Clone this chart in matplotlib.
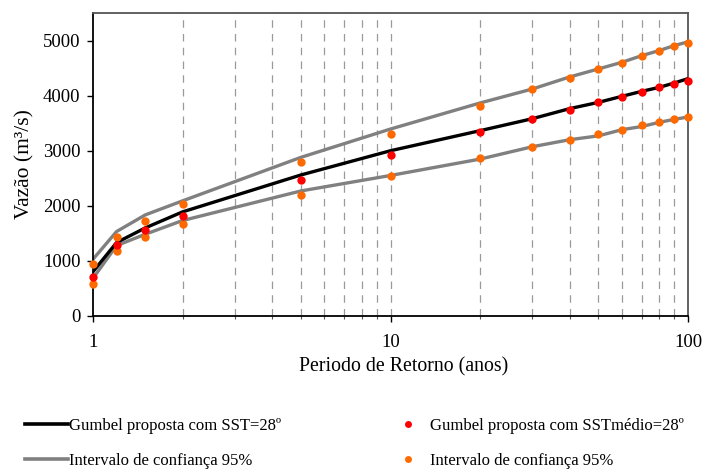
import matplotlib
matplotlib.use("Agg")
import matplotlib.pyplot as plt
from matplotlib.lines import Line2D
from matplotlib.ticker import FixedLocator, NullFormatter, FixedFormatter

plt.rcParams['font.family'] = ['Liberation Serif', 'DejaVu Serif']

# Return periods (years)
periodo = [1, 1.2, 1.5, 2, 5, 10, 20, 30, 40, 50, 60, 70, 80, 90, 100]

# Gumbel proposal curve, SST = 28º (m³/s)
gumbel_linha = [805, 1333, 1600, 1890, 2560, 3000, 3364, 3582, 3764, 3878, 3988, 4079, 4150, 4230, 4309]
ic_sup_linha = [1030, 1533, 1836, 2090, 2880, 3394, 3867, 4121, 4339, 4485, 4606, 4727, 4818, 4909, 4976]
ic_inf_linha = [685, 1278, 1485, 1733, 2270, 2551, 2848, 3073, 3200, 3270, 3382, 3440, 3515, 3570, 3612]

# Gumbel proposal points, mean SST = 28º (m³/s)
gumbel_pontos = [710, 1280, 1553, 1820, 2475, 2927, 3340, 3582, 3733, 3878, 3970, 4060, 4150, 4212, 4267]
ic_sup_pontos = [945, 1425, 1727, 2025, 2800, 3310, 3818, 4121, 4327, 4479, 4600, 4715, 4806, 4903, 4958]
ic_inf_pontos = [582, 1188, 1425, 1667, 2205, 2533, 2860, 3073, 3194, 3303, 3376, 3460, 3515, 3582, 3612]

y_ticks = [0, 1000, 2000, 3000, 4000, 5000]
x_ticks = [1, 10, 100]
x_ticklabels = ['1', '10', '100']

fig = plt.figure(figsize=(7.03, 4.70), dpi=100)
ax = fig.add_axes([93/703, 1 - 316/470, (688 - 93)/703, (316 - 13)/470])

ax.set_xscale('log')
ax.set_xlim(1, 100)
ax.set_ylim(0, 5500)

# dashed verticals at every intermediate position of each decade
minor = [m * d for d in (1, 10) for m in range(2, 10)]
for xv in minor + [10]:
    ax.axvline(xv, color='#9a9a9a', lw=0.9, ls=(0, (6, 5)), zorder=1)

ax.plot(periodo, ic_sup_linha, color='#808080', lw=2.4, zorder=2)
ax.plot(periodo, ic_inf_linha, color='#808080', lw=2.4, zorder=2)
ax.plot(periodo, gumbel_linha, color='black', lw=2.4, zorder=3)
ax.plot(periodo, ic_sup_pontos, 'o', color='#ff6a00', ms=6, mec='none', zorder=4, clip_on=False)
ax.plot(periodo, ic_inf_pontos, 'o', color='#ff6a00', ms=6, mec='none', zorder=4, clip_on=False)
ax.plot(periodo, gumbel_pontos, 'o', color='#ff0000', ms=6, mec='none', zorder=5, clip_on=False)

ax.xaxis.set_major_locator(FixedLocator(x_ticks))
ax.xaxis.set_major_formatter(FixedFormatter(x_ticklabels))
ax.xaxis.set_minor_locator(FixedLocator(minor))
ax.xaxis.set_minor_formatter(NullFormatter())
ax.set_yticks(y_ticks)

ax.tick_params(axis='both', which='major', direction='out', length=4, width=1,
               labelsize=13.5, colors='black')
ax.tick_params(axis='x', which='major', pad=9)
ax.tick_params(axis='y', which='major', pad=5)
ax.tick_params(axis='x', which='minor', direction='out', length=2, width=0.8, color='#555555')

for s in ('left', 'bottom'):
    ax.spines[s].set_color('black')
    ax.spines[s].set_linewidth(1.3)
for s in ('top', 'right'):
    ax.spines[s].set_color('#555555')
    ax.spines[s].set_linewidth(1.3)

ax.set_ylabel('Vazão (m³/s)', fontsize=15.5, labelpad=6)
fig.text(404/703, 1 - 367/470, 'Periodo de Retorno (anos)', fontsize=14.3,
         ha='center', va='center')

handles = [
    Line2D([], [], color='black', lw=2.6),
    Line2D([], [], color='#808080', lw=2.6),
    Line2D([], [], ls='none', marker='o', color='#ff0000', ms=5, mec='none'),
    Line2D([], [], ls='none', marker='o', color='#ff6a00', ms=5, mec='none'),
]
labels = ['Gumbel proposta com SST=28º', 'Intervalo de confiança 95%',
          'Gumbel proposta com SSTmédio=28º', 'Intervalo de confiança 95%']
fig.legend(handles, labels, ncol=2, loc='upper left',
           bbox_to_anchor=(25/703, 1 - 418/470), frameon=False, fontsize=12,
           handlelength=2.6, handletextpad=0.05, columnspacing=6.3,
           labelspacing=1.15, borderaxespad=0, borderpad=0)

fig.savefig('out.png', dpi=100)
